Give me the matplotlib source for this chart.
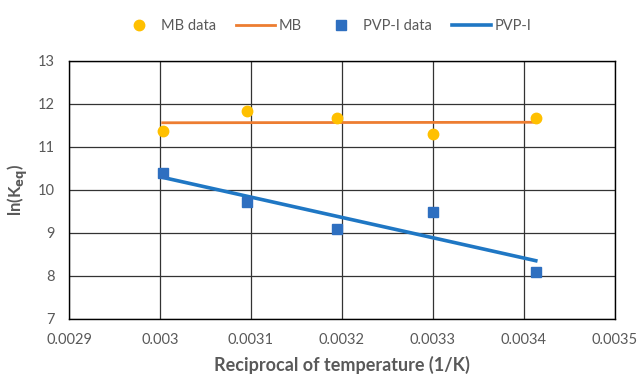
import matplotlib
matplotlib.use('Agg')
import matplotlib.pyplot as plt
import numpy as np

# reciprocal temperatures (1/K) for 333, 323, 313, 303, 293 K
inv_temp = [1 / 333, 1 / 323, 1 / 313, 1 / 303, 1 / 293]
mb_lnk = [11.37, 11.83, 11.66, 11.29, 11.66]
pvp_lnk = [10.38, 9.71, 9.09, 9.48, 8.08]

x_ticks = [0.0029, 0.003, 0.0031, 0.0032, 0.0033, 0.0034, 0.0035]
x_tick_labels = ['0.0029', '0.003', '0.0031', '0.0032', '0.0033', '0.0034', '0.0035']
y_ticks = [7, 8, 9, 10, 11, 12, 13]

plt.rcParams['font.family'] = ['Lato', 'DejaVu Sans']

fig = plt.figure(figsize=(6.41, 3.76), dpi=100)
ax = fig.add_axes([0.1076, 0.1524, 0.8518, 0.6862])

x = np.array(inv_temp)
# linear trendlines, as in the spreadsheet
mb_fit = np.polyfit(x, mb_lnk, 1)
pvp_fit = np.polyfit(x, pvp_lnk, 1)
xl = np.array([x.min(), x.max()])

ax.plot(x, mb_lnk, 'o', color='#FFC000', markersize=7.5, label='MB data', zorder=4)
ax.plot(xl, np.polyval(mb_fit, xl), '-', color='#ED7D31', linewidth=2, label='MB', zorder=3)
ax.plot(x, pvp_lnk, 's', color='#2E6FC0', markersize=6.5, label='PVP-I data', zorder=4)
ax.plot(xl, np.polyval(pvp_fit, xl), '-', color='#1F77C4', linewidth=2.6, label='PVP-I', zorder=3)

ax.set_xlim(0.0029, 0.0035)
ax.set_ylim(7, 13)
ax.set_xticks(x_ticks)
ax.set_xticklabels(x_tick_labels)
ax.set_yticks(y_ticks)
ax.grid(True, color='#333333', linewidth=0.9)
ax.set_axisbelow(True)
for s in ax.spines.values():
    s.set_color('black')
    s.set_linewidth(1.0)
ax.tick_params(length=0, labelsize=10.5, labelcolor='#595959')
ax.tick_params(axis='x', pad=10)
ax.tick_params(axis='y', pad=10)

ax.set_xlabel('Reciprocal of temperature (1/K)', fontsize=13, fontweight='bold',
              color='#595959', labelpad=7)
ax.set_ylabel('ln(K$_{\\mathbf{eq}}$)', fontsize=12, fontweight='bold',
              color='#595959', labelpad=6)

fig.legend(*ax.get_legend_handles_labels(), loc='center', bbox_to_anchor=(0.507, 0.93),
           ncol=4, frameon=False, fontsize=10.5, labelcolor='#595959',
           handlelength=2.7, columnspacing=1.35, handletextpad=0.2)

fig.savefig('out.png', dpi=100)
